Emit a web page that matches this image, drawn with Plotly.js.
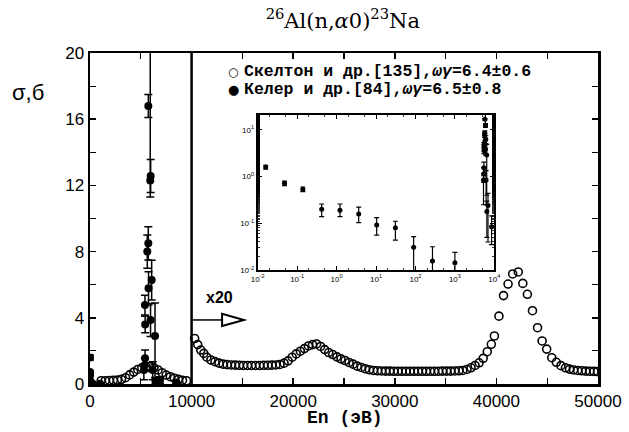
<!DOCTYPE html>
<html><head><meta charset="utf-8">
<script src="https://cdn.plot.ly/plotly-3.0.1.min.js"></script>
<style>html,body{margin:0;padding:0;background:#fff}#chart{width:629px;height:432px}</style>
</head><body><div id="chart"></div>
<script>
// Skelton et al. — open circles, 0–10000 eV (true scale, barn)
const skeltonLowX = [1100,1500,1900,2300,2700,3100,3500,3900,4300,4700,5100,5500,5900,6300,6700,7100,7500,7900,8300,8700,9100,9500];
const skeltonLowY = [0.20,0.20,0.21,0.22,0.24,0.28,0.38,0.55,0.72,0.88,0.98,1.03,1.05,0.98,0.85,0.68,0.54,0.44,0.35,0.28,0.23,0.20];
// Skelton et al. — open circles, 10000–50000 eV (shown x20)
const skeltonHighX = [10300,10600,10900,11200,11500,11900,12300,12700,13100,13500,13900,14300,14700,15100,15500,15900,16300,16700,17100,17500,17900,18300,18700,19100,19500,19900,20300,20700,21100,21500,21900,22300,22700,23100,23500,23900,24300,24700,25100,25500,25900,26300,26700,27100,27500,27900,28300,28700,29100,29500,29900,30300,30700,31100,31500,31900,32300,32700,33100,33500,33900,34300,34700,35100,35500,35900,36300,36700,37100,37500,37900,38300,38700,39100,39500,39800,40250,40700,41150,41600,42150,42600,43050,43550,44050,44500,44950,45450,45900,46350,46800,47200,47600,48000,48400,48800,49200,49600,49950];
const skeltonHighY = [2.75,2.38,2.05,1.85,1.62,1.45,1.35,1.26,1.20,1.17,1.15,1.14,1.13,1.12,1.12,1.12,1.12,1.12,1.13,1.13,1.14,1.15,1.18,1.26,1.40,1.62,1.82,1.98,2.14,2.30,2.38,2.42,2.27,2.08,1.90,1.78,1.64,1.52,1.42,1.30,1.20,1.08,1.00,0.92,0.86,0.82,0.80,0.79,0.78,0.78,0.77,0.77,0.77,0.77,0.77,0.77,0.77,0.77,0.77,0.77,0.77,0.77,0.78,0.78,0.78,0.79,0.80,0.82,0.88,0.98,1.12,1.28,1.55,1.95,2.40,2.90,4.10,5.34,6.04,6.65,6.77,6.08,5.42,4.43,3.40,2.60,2.11,1.59,1.31,1.11,0.98,0.90,0.85,0.82,0.80,0.78,0.77,0.76,0.75];
// Keler et al. — filled circles (barn), thermal + resonance
const kelerX = [0.016,0.048,0.14,0.42,1.22,3.64,10.4,31,90,270,1000,5410,5430,5420,5400,5300,5640,5740,5740,5970,5930,5760,6070,5960,6400,6170,6890,6450,8500];
const kelerY = [1.6,0.72,0.54,0.20,0.19,0.158,0.092,0.081,0.031,0.0156,0.0144,4.77,3.6,1.55,1.15,0.85,8.0,8.5,16.8,12.57,12.3,5.78,6.28,3.87,2.9,0.85,0.24,0.18,0.085];
const kelerErrPlus = [0.15,0.08,0.06,0.06,0.07,0.065,0.041,0.03,0.021,0.016,0.0096,0.6,0.5,0.5,0.4,0.3,1.0,1.0,0.7,1.0,9.0,1.0,1.2,1.0,2.0,0.5,0.2,0.12,0.06];
const kelerErrMinus = [0.15,0.08,0.06,0.06,0.05,0.054,0.036,0.037,0.026,0.0106,0.0094,0.6,0.5,0.5,0.4,0.6,1.0,1.0,0.7,1.0,1.0,1.0,1.2,1.0,2.5,0.6,0.2,0.13,0.05];

// inset log-axis tick labels
const insetXTickVals = [0.01,0.1,1,10,100,1000,10000];
const insetXTickText = ['10<sup>-2</sup>','10<sup>-1</sup>','10<sup>0</sup>','10<sup>1</sup>','10<sup>2</sup>','10<sup>3</sup>','10<sup>4</sup>'];
const insetYTickVals = [0.01,0.1,1,10];
const insetYTickText = ['10<sup>-2</sup>','10<sup>-1</sup>','10<sup>0</sup>','10<sup>1</sup>'];

const legendSymbols = ['○','●'];
const legendNames = ['Скелтон и др.[135],<i>ωγ</i>=6.4±0.6','Келер и др.[84],<i>ωγ</i>=6.5±0.8'];
const mainTitle = '<sup>26</sup>Al(n,<i>α</i>0)<sup>23</sup>Na';

const openMarker = {symbol:'circle-open', size:8, color:'#000', line:{width:1.6,color:'#000'}};
const fullMarker = {symbol:'circle', size:8, color:'#000'};
const errY = {type:'data', symmetric:false, array:kelerErrPlus, arrayminus:kelerErrMinus, color:'#000', thickness:1.5, width:4};

const traces = [
  {x:skeltonLowX, y:skeltonLowY, type:'scatter', mode:'markers', marker:openMarker, name:legendNames[0], showlegend:false, xaxis:'x', yaxis:'y'},
  {x:skeltonHighX, y:skeltonHighY, type:'scatter', mode:'markers', marker:openMarker, name:legendNames[0], showlegend:false, xaxis:'x', yaxis:'y'},
  {x:kelerX, y:kelerY, type:'scatter', mode:'markers', marker:fullMarker, error_y:errY, name:legendNames[1], showlegend:false, xaxis:'x', yaxis:'y'},
  {x:kelerX, y:kelerY, type:'scatter', mode:'markers', marker:{symbol:'circle', size:5, color:'#000'}, error_y:Object.assign({}, errY, {thickness:1.2, width:2.5}), showlegend:false, xaxis:'x2', yaxis:'y2'}
];

const tickFont = {family:'Liberation Sans, Arial, sans-serif', size:17, color:'#000'};
const smallFont = {family:'Liberation Sans, Arial, sans-serif', size:8, color:'#000'};
const legFont = {family:'Liberation Mono, Courier New, monospace', size:16.5, color:'#000', weight:'bold'};

// legend rows in pixel rows converted to paper fractions (plot area 90..598 x, 53..384 y)
const px = v => (v - 90) / 508, py = v => (384 - v) / 331;

const layout = {
  width:629, height:432,
  margin:{l:90, r:31, t:53, b:48},
  paper_bgcolor:'#fff', plot_bgcolor:'#fff',
  showlegend:false,
  title:{text:mainTitle, x:0.545, xanchor:'center', y:0.952, yanchor:'middle', font:{family:'DejaVu Serif, serif', size:21, color:'#000'}},
  xaxis:{range:[0,50000], dtick:10000, tick0:0, ticks:'inside', ticklen:6, tickwidth:1.5, tickcolor:'#000',
         minor:{dtick:5000, ticks:'inside', ticklen:6, tickwidth:1.2, tickcolor:'#000'},
         showline:true, linewidth:2.5, linecolor:'#000', mirror:'allticks', showgrid:false, zeroline:false,
         tickfont:tickFont, tickformat:'d'},
  yaxis:{range:[0,20], dtick:4, tick0:0, ticks:'inside', ticklen:6, tickwidth:1.5, tickcolor:'#000',
         minor:{dtick:2, ticks:'inside', ticklen:6, tickwidth:1.2, tickcolor:'#000'},
         showline:true, linewidth:2.5, linecolor:'#000', mirror:'allticks', showgrid:false, zeroline:false,
         tickfont:tickFont},
  xaxis2:{type:'log', domain:[0.330,0.796], anchor:'y2', range:[-2,4], tickvals:insetXTickVals, ticktext:insetXTickText,
          ticks:'inside', ticklen:4, tickwidth:1, tickcolor:'#000',
          minor:{ticks:'inside', ticklen:2, tickwidth:0.8, tickcolor:'#000'},
          showline:true, linewidth:2, linecolor:'#000', mirror:'allticks', showgrid:false, zeroline:false, tickfont:smallFont},
  yaxis2:{type:'log', domain:[0.344,0.813], anchor:'x2', range:[-2,1.32], tickvals:insetYTickVals, ticktext:insetYTickText,
          ticks:'inside', ticklen:4, tickwidth:1, tickcolor:'#000',
          minor:{ticks:'inside', ticklen:2, tickwidth:0.8, tickcolor:'#000'},
          showline:true, linewidth:2, linecolor:'#000', mirror:'allticks', showgrid:false, zeroline:false, tickfont:smallFont},
  shapes:[
    {type:'line', xref:'x', yref:'y', x0:10000, x1:10000, y0:0, y1:20, line:{color:'#000', width:2.5}},
    {type:'line', xref:'x', yref:'y', x0:10000, x1:13000, y0:3.87, y1:3.87, line:{color:'#000', width:1.5}},
    {type:'path', xref:'x', yref:'y', path:'M 13000 3.5 L 15150 3.87 L 13000 4.24 Z', line:{color:'#000', width:2}, fillcolor:'#fff'}
  ],
  annotations:[
    {text:legendSymbols[0], xref:'paper', yref:'paper', x:px(233), y:py(72), xanchor:'center', yanchor:'middle', showarrow:false,
     font:{family:'DejaVu Sans, sans-serif', size:12, color:'#000'}},
    {text:legendSymbols[1], xref:'paper', yref:'paper', x:px(233), y:py(90), xanchor:'center', yanchor:'middle', showarrow:false,
     font:{family:'DejaVu Sans, sans-serif', size:13, color:'#000'}},
    {text:legendNames[0], xref:'paper', yref:'paper', x:px(242), y:py(72), xanchor:'left', yanchor:'middle', showarrow:false, font:legFont},
    {text:legendNames[1], xref:'paper', yref:'paper', x:px(242), y:py(90), xanchor:'left', yanchor:'middle', showarrow:false, font:legFont},
    {text:'En (эВ)', xref:'paper', yref:'paper', x:px(345), y:py(418), xanchor:'center', yanchor:'middle', showarrow:false,
     font:{family:'Liberation Mono, Courier New, monospace', size:18, color:'#000', weight:'bold'}},
    {text:'σ,б', xref:'paper', yref:'paper', x:-0.158, y:0.88, xanchor:'left', yanchor:'middle', showarrow:false,
     font:{family:'Liberation Sans, Arial, sans-serif', size:22, color:'#000'}},
    {text:'<b>x20</b>', xref:'x', yref:'y', x:12700, y:5.2, xanchor:'center', yanchor:'middle', showarrow:false,
     font:{family:'Liberation Sans, Arial, sans-serif', size:16, color:'#000'}}
  ]
};

Plotly.newPlot('chart', traces, layout, {displayModeBar:false, staticPlot:true});
</script></body></html>
